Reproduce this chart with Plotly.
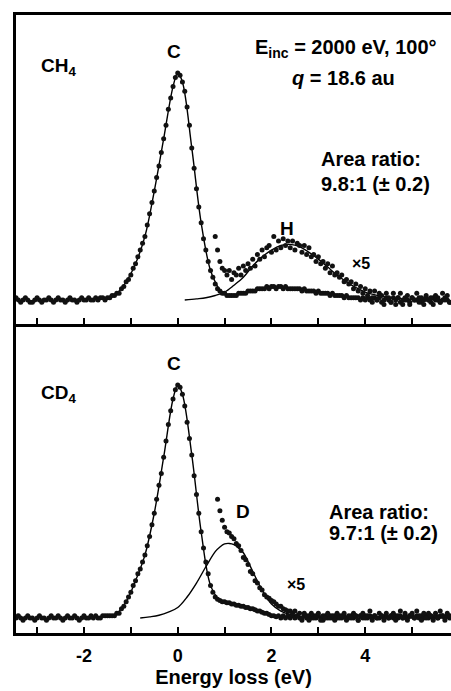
import numpy as np
import plotly.graph_objects as go

FONT = "Liberation Sans, Arial, sans-serif"

# ---------------- data (normalised intensity: baseline 0, C peak 1) ----------------
STEP = 0.05
MAIN_START = -3.50

ch4_main = [
    0.00, 0.01, 0.00, -0.01, 0.00, 0.01, 0.00, -0.01, -0.01, 0.00,
    0.01, 0.00, -0.01, 0.00, 0.00, 0.01, 0.00, -0.01, 0.00, 0.01,
    0.00, 0.00, -0.01, 0.00, 0.01, 0.00, 0.00, -0.01, 0.00, 0.01,
    0.00, 0.00, 0.01, 0.00, 0.00, 0.01, 0.00, 0.01, 0.01, 0.00,
    0.01, 0.01, 0.02, 0.02, 0.03, 0.03, 0.05, 0.06, 0.08, 0.09,
    0.11, 0.14, 0.16, 0.19, 0.22, 0.25, 0.28, 0.33, 0.38, 0.43,
    0.48, 0.54, 0.59, 0.65, 0.71, 0.77, 0.84, 0.89, 0.94, 0.98,
    1.00, 0.99, 0.96, 0.92, 0.85, 0.77, 0.67, 0.58, 0.49, 0.41,
    0.34, 0.27, 0.22, 0.17, 0.13, 0.10, 0.07, 0.05, 0.04, 0.03,
    0.03, 0.02, 0.02, 0.02, 0.02, 0.02, 0.03, 0.03, 0.03, 0.03,
    0.04, 0.04, 0.04, 0.04, 0.05, 0.05, 0.05, 0.05, 0.06, 0.05,
    0.06, 0.06, 0.05, 0.06, 0.06, 0.05, 0.06, 0.05, 0.05, 0.05,
    0.05, 0.05, 0.05, 0.04, 0.05, 0.04, 0.04, 0.04, 0.04, 0.03,
    0.04, 0.03, 0.03, 0.03, 0.03, 0.02, 0.03, 0.02, 0.02, 0.02,
    0.02, 0.01, 0.02, 0.01, 0.01, 0.01, 0.01, 0.01, 0.00, 0.01,
    0.00, 0.01, 0.00, -0.01, 0.01, 0.00, 0.01, -0.01, 0.00, 0.01,
    0.00, -0.01, 0.01, 0.00, 0.01, -0.01, 0.00, 0.01, 0.00, -0.01,
    0.01, 0.00, 0.00, 0.01, -0.01, 0.00, 0.01, 0.00, -0.01, 0.01,
    0.00, 0.01, -0.01, 0.00, 0.01, 0.00, -0.01,
]

cd4_main = [
    0.00, 0.00, 0.01, 0.00, -0.01, 0.00, 0.01, 0.00, 0.00, -0.01,
    0.00, 0.01, 0.00, 0.00, -0.01, 0.00, 0.01, 0.00, 0.00, 0.01,
    0.00, -0.01, 0.00, 0.01, 0.00, 0.00, 0.01, 0.00, -0.01, 0.00,
    0.01, 0.00, 0.00, 0.01, 0.00, 0.01, 0.00, 0.00, 0.01, 0.01,
    0.01, 0.01, 0.01, 0.01, 0.02, 0.02, 0.04, 0.05, 0.07, 0.09,
    0.11, 0.14, 0.16, 0.19, 0.21, 0.24, 0.27, 0.31, 0.35, 0.40,
    0.45, 0.51, 0.57, 0.62, 0.69, 0.76, 0.83, 0.89, 0.94, 0.98,
    1.00, 0.99, 0.96, 0.91, 0.84, 0.77, 0.70, 0.61, 0.53, 0.45,
    0.37, 0.30, 0.24, 0.19, 0.14, 0.11, 0.09, 0.08, 0.075, 0.07,
    0.07, 0.065, 0.065, 0.06, 0.06, 0.055, 0.055, 0.05, 0.05, 0.045,
    0.045, 0.04, 0.04, 0.035, 0.03, 0.03, 0.025, 0.02, 0.02, 0.015,
    0.01, 0.01, 0.005, 0.01, 0.00, 0.01, 0.00, 0.01, 0.00, 0.01,
    0.00, 0.01, 0.00, -0.01, 0.01, 0.00, 0.01, 0.00, 0.01, 0.00,
    0.01, 0.00, -0.01, 0.01, 0.00, 0.01, 0.00, 0.01, 0.00, 0.01,
    0.00, 0.01, 0.00, 0.00, 0.01, 0.00, 0.01, -0.01, 0.01, 0.00,
    0.01, 0.00, 0.01, 0.00, 0.01, 0.00, 0.00, 0.01, 0.00, 0.01,
    0.00, 0.01, 0.00, 0.01, 0.00, 0.01, 0.00, 0.01, 0.00, 0.01,
    0.01, 0.00, 0.01, 0.00, 0.01, 0.00, 0.01, 0.00, 0.01, 0.00,
    0.01, 0.00, 0.01, 0.01, 0.00, 0.01, 0.00,
]

CH4_X5_START = 0.80
ch4_x5 = [
    0.28, 0.22, 0.17, 0.14, 0.13, 0.11, 0.13, 0.09, 0.12, 0.11,
    0.14, 0.11, 0.15, 0.13, 0.16, 0.14, 0.18, 0.15, 0.20, 0.18,
    0.22, 0.19, 0.23, 0.24, 0.21, 0.28, 0.22, 0.26, 0.23, 0.27,
    0.24, 0.26, 0.23, 0.26, 0.22, 0.25, 0.24, 0.21, 0.24, 0.20,
    0.23, 0.19, 0.20, 0.17, 0.19, 0.16, 0.17, 0.14, 0.16, 0.12,
    0.15, 0.11, 0.12, 0.10, 0.11, 0.08, 0.09, 0.07, 0.08, 0.05,
    0.07, 0.04, 0.06, 0.03, 0.05, 0.02, 0.04, 0.01, 0.04, 0.00,
    0.03, 0.02, -0.02, 0.03, 0.01, -0.01, 0.03, -0.02, 0.01, 0.03,
    -0.02, 0.00, 0.02, -0.02, 0.01, 0.00, 0.03, -0.01, 0.01, -0.02,
    0.02, 0.00, 0.01, -0.02, 0.02, 0.00, -0.01, 0.03, 0.00, 0.02,
    -0.01,
]

CD4_X5_START = 0.85
cd4_x5 = [
    0.51, 0.46, 0.42, 0.39, 0.37, 0.365, 0.35, 0.34, 0.32, 0.31,
    0.29, 0.26, 0.25, 0.23, 0.20, 0.19, 0.16, 0.15, 0.13, 0.12,
    0.10, 0.09, 0.085, 0.075, 0.07, 0.06, 0.05, 0.05, 0.04, 0.035,
    0.03, 0.03, 0.02, 0.03, 0.01, 0.02, 0.00, 0.02, 0.01, -0.01,
    0.02, 0.00, 0.01, 0.02, -0.01, 0.01, 0.00, 0.02, 0.00, 0.01,
    -0.01, 0.02, 0.00, 0.01, 0.02, -0.01, 0.01, 0.00, 0.02, 0.01,
    -0.01, 0.01, 0.02, 0.00, 0.01, 0.03, -0.01, 0.01, 0.00, 0.02,
    0.01, -0.01, 0.02, 0.00, 0.01, 0.02, -0.01, 0.01, 0.03, 0.00,
    0.02, -0.01, 0.01, 0.02, 0.00, 0.03, 0.01, -0.01, 0.02, 0.00,
    0.02, 0.01, -0.01, 0.02, 0.00, 0.03, 0.01, -0.01, 0.02, 0.01,
]

# fitted components
c_fit_x = [-1.5, -1.3, -1.1, -0.9, -0.7, -0.5, -0.3, -0.1, 0.0, 0.1, 0.3, 0.5, 0.7, 0.9]
ch4_c_fit_y = [0.01, 0.03, 0.08, 0.16, 0.28, 0.48, 0.71, 0.94, 1.0, 0.96, 0.67, 0.34, 0.13, 0.04]
cd4_c_fit_y = [0.01, 0.02, 0.07, 0.16, 0.27, 0.45, 0.69, 0.94, 1.0, 0.96, 0.70, 0.37, 0.14, 0.07]

h_fit_x = [0.15, 0.4, 0.6, 0.8, 1.0, 1.2, 1.4, 1.6, 1.8, 2.0, 2.2, 2.4, 2.6, 2.8, 3.0,
           3.2, 3.4, 3.6, 3.8, 4.0, 4.4, 4.8, 5.2, 5.8]
h_fit_y = [0.0, 0.005, 0.01, 0.02, 0.035, 0.065, 0.10, 0.15, 0.19, 0.22, 0.24, 0.245, 0.235, 0.21, 0.18,
           0.145, 0.11, 0.08, 0.055, 0.035, 0.015, 0.005, 0.002, 0.0]

d_fit_x = [-0.8, -0.6, -0.4, -0.2, 0.0, 0.2, 0.4, 0.6, 0.8, 0.9, 1.0, 1.1, 1.2, 1.3, 1.4,
           1.6, 1.8, 2.0, 2.2, 2.4, 2.6, 3.0, 4.0, 5.8]
d_fit_y = [0.0, 0.005, 0.012, 0.025, 0.045, 0.09, 0.15, 0.22, 0.285, 0.305, 0.318, 0.32, 0.315, 0.30, 0.28,
           0.20, 0.12, 0.06, 0.03, 0.015, 0.007, 0.002, 0.0, 0.0]

tick_vals = [-3, -2, -1, 0, 1, 2, 3, 4, 5]
tick_text = ["", "-2", "", "0", "", "2", "", "4", ""]

x_title = "Energy loss (eV)"


def grid(start, n):
    return np.round(start + STEP * np.arange(n), 2)


# ---------------- figure ----------------
fig = go.Figure()

dot = dict(size=5, color="#111111", symbol="circle", line=dict(width=0))
fitline = dict(color="black", width=1.4, shape="spline")

# top panel (CH4)
fig.add_trace(go.Scatter(x=c_fit_x, y=ch4_c_fit_y, mode="lines", line=fitline, xaxis="x", yaxis="y"))
fig.add_trace(go.Scatter(x=h_fit_x, y=h_fit_y, mode="lines", line=fitline, xaxis="x", yaxis="y"))
fig.add_trace(go.Scatter(x=grid(MAIN_START, len(ch4_main)), y=ch4_main, mode="markers",
                         marker=dot, xaxis="x", yaxis="y"))
fig.add_trace(go.Scatter(x=grid(CH4_X5_START, len(ch4_x5)), y=ch4_x5, mode="markers",
                         marker=dot, xaxis="x", yaxis="y"))

# bottom panel (CD4)
fig.add_trace(go.Scatter(x=c_fit_x, y=cd4_c_fit_y, mode="lines", line=fitline, xaxis="x2", yaxis="y2"))
fig.add_trace(go.Scatter(x=d_fit_x, y=d_fit_y, mode="lines", line=fitline, xaxis="x2", yaxis="y2"))
fig.add_trace(go.Scatter(x=grid(MAIN_START, len(cd4_main)), y=cd4_main, mode="markers",
                         marker=dot, xaxis="x2", yaxis="y2"))
fig.add_trace(go.Scatter(x=grid(CD4_X5_START, len(cd4_x5)), y=cd4_x5, mode="markers",
                         marker=dot, xaxis="x2", yaxis="y2"))

XR = [-3.45, 5.83]
axis_common = dict(showgrid=False, zeroline=False, showline=True, linewidth=3, linecolor="black")
xtick = dict(tickmode="array", tickvals=tick_vals, ticktext=tick_text, ticks="inside",
             ticklen=6, tickwidth=2, tickcolor="black")

fig.update_layout(
    width=451, height=691,
    margin=dict(l=16, r=0, t=15, b=58),
    paper_bgcolor="white", plot_bgcolor="white",
    showlegend=False,
    font=dict(family=FONT, color="black"),
    xaxis=dict(domain=[0, 1], anchor="y", range=XR, showticklabels=False, mirror=True,
               **xtick, **axis_common),
    yaxis=dict(domain=[0.5, 1], anchor="x", range=[-0.1057, 1.2555], showticklabels=False,
               ticks="", **axis_common),
    xaxis2=dict(domain=[0, 1], anchor="y2", range=XR, showticklabels=True,
                tickfont=dict(family=FONT, size=18, color="black", weight="bold"),
                ticklabelstandoff=4,
                title=dict(text=x_title, font=dict(family=FONT, size=20, color="black", weight="bold"),
                           standoff=4),
                **xtick, **axis_common),
    yaxis2=dict(domain=[0, 0.5], anchor="x2", range=[-0.0644, 1.2618], showticklabels=False,
                ticks="", **axis_common),
)


def note(text, x, y, panel, size=20, xanchor="center"):
    xr, yr = ("x", "y") if panel == 1 else ("x2", "y2")
    fig.add_annotation(text=text, x=x, y=y, xref=xr, yref=yr, showarrow=False,
                       xanchor=xanchor, yanchor="middle",
                       font=dict(family=FONT, size=size, color="black", weight="bold"))


# top panel labels
note("C", -0.07, 1.095, 1, size=19)
note("CH<sub>4</sub>", -2.97, 1.025, 1, size=19, xanchor="left")
note("E<sub>inc</sub> = 2000 eV, 100°", 3.60, 1.11, 1)
note("<i>q</i> = 18.6 au", 3.53, 0.98, 1)
note("Area ratio:", 3.01, 0.619, 1, xanchor="left")
note("9.8:1 (± 0.2)", 3.01, 0.513, 1, xanchor="left")
note("H", 2.34, 0.315, 1, size=19)
note("×5", 3.90, 0.159, 1, size=16)

# bottom panel labels
note("C", -0.085, 1.092, 2, size=19)
note("CD<sub>4</sub>", -2.97, 0.96, 2, size=19, xanchor="left")
note("D", 1.40, 0.457, 2, size=19)
note("Area ratio:", 3.18, 0.457, 2, xanchor="left")
note("9.7:1 (± 0.2)", 3.18, 0.363, 2, xanchor="left")
note("×5", 2.53, 0.142, 2, size=16)

fig.write_html("out.html")
